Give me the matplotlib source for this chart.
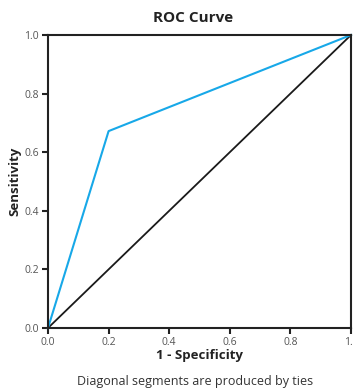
import matplotlib
matplotlib.use("Agg")
import matplotlib.pyplot as plt

# ---- Dados ----
fpr = [0.0, 0.2, 1.0]
tpr = [0.0, 0.672, 1.0]
ref = [0.0, 1.0]
ticks = [0.0, 0.2, 0.4, 0.6, 0.8, 1.0]
tick_labels = ["0.0", "0.2", "0.4", "0.6", "0.8", "1.0"]

plt.rcParams['font.family'] = ['Open Sans', 'DejaVu Sans']

fig = plt.figure(figsize=(3.53, 3.90), dpi=100)
ax = fig.add_axes([48/353, 1 - 328/390, 303/353, 293/390])

ax.plot(ref, ref, color="#1a1a1a", lw=1.3, clip_on=False)
ax.plot(fpr, tpr, color="#17a8e8", lw=1.5, clip_on=False)

ax.set_xlim(0, 1)
ax.set_ylim(0, 1)
ax.set_xticks(ticks)
ax.set_xticklabels(tick_labels)
ax.set_yticks(ticks)
ax.set_yticklabels(tick_labels)
ax.tick_params(direction="out", length=4, width=1.5, color="#222222",
               labelsize=7.5, labelcolor="#555555", pad=2.5)
for s in ax.spines.values():
    s.set_linewidth(1.5)
    s.set_color("#222222")

# titulo e rodape
fig.text(193/353, 1 - 18/390, "ROC Curve", ha="center", va="center",
         fontsize=11, fontweight="bold", color="#222222")
ax.set_xlabel("1 - Specificity", fontsize=9.5, fontweight="bold", color="#222222", labelpad=1)
ax.set_ylabel("Sensitivity", fontsize=9.5, fontweight="bold", color="#222222", labelpad=2)
fig.text(195/353, 1 - 382/390, "Diagonal segments are produced by ties",
         ha="center", va="center", fontsize=9, color="#333333")

fig.savefig("out.png", dpi=100)
